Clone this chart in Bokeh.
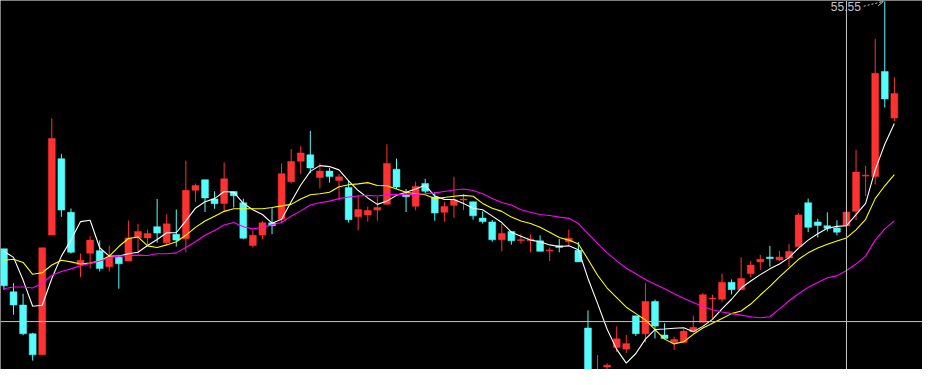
from bokeh.plotting import figure
from bokeh.models import Span, Range1d, Arrow, OpenHead, ColumnDataSource
from bokeh.core.properties import value
from bokeh.embed import file_html
from bokeh.resources import INLINE

# ---- daily K-line data ----
open_ = [29.75, 25.25, 23.88, 20.88, 18.68, 31.18, 39.15, 33.55, 28.08, 29.28,
         29.55, 27.88, 28.85, 28.48, 30.92, 30.88, 32.05, 30.38, 31.25, 30.78,
         35.85, 36.95, 34.95, 34.48, 35.72, 34.55, 30.08, 31.18, 32.45, 32.82,
         36.75, 38.88, 39.55, 37.18, 37.85, 36.88, 36.15, 33.08, 33.28, 33.78,
         34.38, 38.05, 35.45, 34.18, 36.55, 35.15, 33.55, 34.28, 34.88, 34.65,
         32.95, 32.55, 30.68, 31.55, 30.65, 30.58, 30.58, 29.58, 30.05, 30.48,
         29.58, 21.48, 16.20, 17.40, 19.45, 19.28, 22.75, 20.88, 24.25, 20.75,
         19.95, 19.98, 21.08, 22.08, 24.55, 24.48, 26.25, 25.48, 27.15, 28.38,
         28.88, 28.58, 28.78, 29.98, 34.55, 32.55, 32.15, 31.92, 32.12, 33.65,
         37.38, 37.28, 48.25, 43.38]
close = [25.88, 23.88, 20.88, 18.68, 29.85, 41.25, 33.78, 29.38, 28.55, 30.65,
         27.68, 28.85, 28.18, 30.88, 31.55, 31.35, 31.38, 32.35, 30.65, 35.85,
         36.35, 35.05, 34.45, 37.05, 35.28, 30.85, 31.15, 32.45, 32.15, 37.58,
         38.85, 39.75, 38.18, 37.85, 37.28, 37.25, 32.78, 33.85, 33.75, 34.05,
         38.65, 36.18, 35.18, 36.25, 35.75, 33.48, 34.15, 34.85, 34.93, 33.18,
         32.58, 30.68, 31.35, 30.58, 30.70, 30.75, 29.48, 29.63, 29.88, 30.85,
         28.38, 16.65, 16.90, 17.60, 20.35, 19.85, 20.88, 24.25, 21.68, 20.38,
         20.28, 21.15, 21.55, 24.95, 24.60, 26.25, 25.48, 26.65, 28.05, 28.65,
         28.72, 28.88, 29.45, 33.28, 31.98, 32.18, 31.88, 31.48, 33.58, 37.75,
         37.43, 48.05, 45.38, 45.95]
high = [29.75, 26.15, 25.05, 20.98, 29.85, 43.35, 39.65, 33.95, 29.25, 31.05,
        30.62, 30.08, 29.12, 32.68, 32.35, 31.75, 34.95, 33.35, 33.85, 38.95,
        36.55, 36.95, 35.75, 38.75, 35.72, 34.98, 31.65, 32.65, 34.05, 38.65,
        40.15, 40.45, 42.05, 38.65, 38.18, 37.55, 36.82, 35.35, 34.15, 35.15,
        40.65, 39.15, 35.98, 36.75, 37.05, 35.65, 34.65, 37.25, 35.45, 34.65,
        33.65, 32.75, 32.35, 31.55, 31.25, 31.25, 31.15, 29.88, 30.78, 31.75,
        30.45, 23.32, 18.65, 17.80, 21.65, 20.75, 22.75, 26.15, 24.45, 21.98,
        20.58, 21.38, 22.78, 25.12, 24.95, 27.15, 26.55, 28.85, 28.48, 29.12,
        30.05, 29.52, 30.25, 33.48, 34.98, 32.88, 33.55, 32.72, 34.35, 40.08,
        38.38, 51.65, 55.55, 47.65]
low = [25.45, 22.88, 20.72, 18.08, 18.68, 31.18, 33.08, 29.25, 26.78, 27.68,
       27.38, 27.38, 25.58, 28.48, 29.25, 30.08, 30.38, 30.15, 29.98, 29.38,
       34.65, 33.58, 33.92, 33.58, 34.05, 30.75, 29.88, 30.75, 31.28, 32.38,
       36.55, 37.55, 37.65, 36.05, 36.65, 34.78, 32.48, 31.68, 32.58, 32.68,
       34.38, 35.98, 33.58, 33.75, 35.55, 32.68, 32.58, 32.98, 33.78, 32.78,
       32.38, 30.48, 29.48, 30.18, 30.28, 29.38, 29.48, 28.48, 29.38, 29.98,
       28.38, 16.15, 15.90, 17.05, 18.98, 18.88, 20.65, 19.98, 20.38, 20.38,
       19.18, 19.88, 21.08, 22.08, 22.48, 24.18, 24.98, 25.48, 26.78, 27.55,
       27.88, 28.48, 27.88, 29.98, 31.48, 30.92, 31.55, 31.15, 31.05, 32.72,
       35.25, 36.45, 44.48, 43.05]

# ---- moving averages (white / yellow / magenta) ----
ma5 = [29.48, 28.85, 26.48, 23.75, 23.85, 26.65, 28.98, 30.65, 32.58, 32.72,
       29.85, 28.98, 28.98, 29.22, 29.38, 30.08, 30.72, 31.42, 31.42, 32.65,
       33.98, 34.65, 34.98, 35.72, 35.65, 34.48, 33.82, 33.32, 32.42, 32.82,
       34.65, 36.40, 37.82, 38.42, 38.32, 37.98, 36.82, 35.82, 35.05, 34.38,
       34.72, 35.32, 35.65, 35.98, 36.38, 35.25, 34.90, 34.88, 34.48, 33.98,
       33.82, 33.15, 32.48, 31.48, 31.05, 30.65, 30.48, 30.15, 29.98, 30.05,
       29.65, 26.65, 24.05, 21.35, 19.25, 17.82, 18.82, 20.32, 21.32, 21.38,
       21.45, 21.50, 21.10, 21.65, 22.38, 23.48, 24.48, 25.65, 26.38, 27.05,
       27.65, 28.15, 28.82, 29.82, 30.65, 31.32, 31.88, 32.08, 32.15, 33.32,
       34.48, 37.98, 40.65, 42.82]
ma10 = [28.55, 28.65, 28.32, 27.08, 27.25, 28.05, 28.55, 28.38, 28.15, 28.25,
        28.48, 28.98, 29.98, 30.82, 30.98, 30.05, 29.88, 30.15, 30.48, 31.15,
        31.98, 32.65, 33.15, 33.65, 33.92, 33.92, 33.92, 33.92, 34.05, 34.22,
        34.38, 34.95, 35.38, 35.48, 35.65, 36.22, 36.42, 36.52, 36.65, 36.35,
        36.32, 35.98, 35.65, 35.48, 35.38, 34.98, 35.10, 35.22, 35.32, 35.22,
        34.48, 33.98, 33.65, 33.05, 32.65, 32.38, 31.98, 31.48, 30.92, 30.65,
        30.25, 28.65, 26.98, 25.65, 24.65, 23.65, 22.98, 22.32, 21.32, 20.32,
        19.82, 20.05, 20.82, 21.48, 21.98, 22.48, 22.98, 23.25, 23.98, 24.92,
        25.82, 26.82, 27.72, 28.65, 29.32, 29.82, 30.22, 30.55, 30.88, 31.72,
        32.82, 34.98, 36.32, 37.48]
ma20 = [25.58, 25.75, 25.75, 25.65, 26.15, 26.98, 27.38, 27.65, 27.98, 28.22,
        28.48, 28.82, 28.98, 29.05, 29.08, 29.05, 29.22, 29.22, 29.32, 29.88,
        30.48, 31.15, 31.65, 32.22, 32.48, 32.05, 31.82, 31.98, 32.25, 32.48,
        33.15, 33.70, 34.32, 34.55, 34.72, 34.98, 35.15, 35.25, 35.32, 35.25,
        35.38, 35.42, 35.42, 35.42, 35.48, 35.58, 35.73, 35.88, 35.98, 35.82,
        35.48, 34.98, 34.58, 34.32, 33.82, 33.55, 33.32, 33.22, 33.05, 32.92,
        32.38, 31.32, 30.32, 29.32, 28.48, 27.72, 27.15, 26.55, 26.05, 25.58,
        25.05, 24.58, 24.15, 23.72, 23.38, 23.15, 22.98, 22.82, 22.65, 22.55,
        22.65, 23.48, 24.32, 25.05, 25.72, 26.22, 26.72, 26.92, 27.48, 28.15,
        28.98, 30.65, 31.82, 32.65]

# crosshair position (bar index, price)
cross_index = 88
cross_price = 22.15

UP = "#ff3232"
DOWN = "#54fcfc"
GREY = "#c4c4c4"

n = len(close)
xs = list(range(n))
colors = [UP if c >= o else DOWN for o, c in zip(open_, close)]
tops = [max(o, c) for o, c in zip(open_, close)]
bottoms = [min(min(o, c), max(o, c) - 0.1) for o, c in zip(open_, close)]

src = ColumnDataSource(dict(x=xs, high=high, low=low, top=tops, bottom=bottoms, color=colors))

p = figure(width=922, height=369, output_backend="svg", toolbar_location=None,
           x_range=Range1d(-0.36, 95.94), y_range=Range1d(17.15, 55.65),
           min_border=0, background_fill_color="black", border_fill_color="black",
           outline_line_color=None)
p.axis.visible = False
p.grid.visible = False

p.segment(x0="x", y0="low", x1="x", y1="high", color="color", line_width=1, source=src)
p.vbar(x="x", width=0.72, top="top", bottom="bottom", fill_color="color",
       line_color="color", line_width=0.5, source=src)

p.line(xs, ma5, line_color="#ffffff", line_width=1.1)
p.line(xs, ma10, line_color="#ffff00", line_width=1.1)
p.line(xs, ma20, line_color="#ff00ff", line_width=1.1)

p.add_layout(Span(location=cross_index, dimension="height", line_color=GREY, line_width=1))
p.add_layout(Span(location=cross_price, dimension="width", line_color=GREY, line_width=1))

peak = max(range(n), key=lambda i: high[i])
peak_val = high[peak]
p.text(x=[peak - 2.5], y=[peak_val - 0.55], text=[f"{peak_val:.2f}"],
       text_align="right", text_baseline="middle", text_color=GREY,
       text_font=value("Liberation Sans"), text_font_size="12px")
p.add_layout(Arrow(end=OpenHead(size=6, line_color=GREY, line_width=1),
                   x_start=peak - 2.2, y_start=peak_val - 0.5,
                   x_end=peak - 0.15, y_end=peak_val,
                   line_color=GREY, line_width=1, line_dash="2 2"))

open("out.html", "w").write(file_html(p, INLINE))
